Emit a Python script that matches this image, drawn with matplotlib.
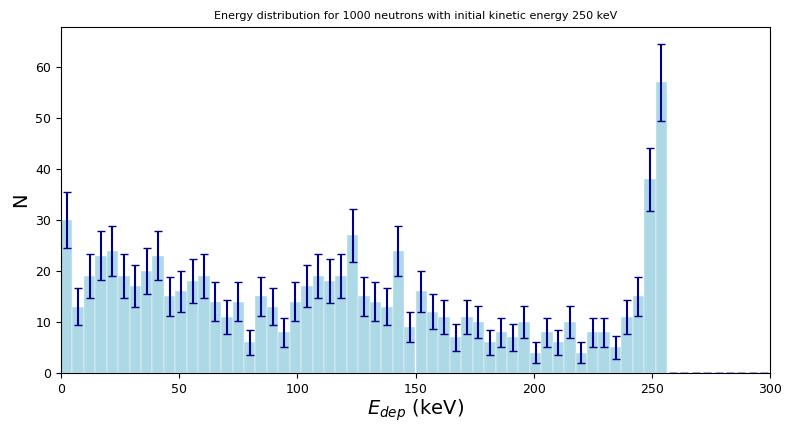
import numpy as np
import matplotlib
matplotlib.use("Agg")
import matplotlib.pyplot as plt

# Histogram: 62 equal bins from 0 to 300 keV
n_bins = 62
e_min, e_max = 0, 300
counts_nonzero = [30, 13, 19, 23, 24, 19, 17, 20, 23, 15,
                  16, 18, 19, 14, 11, 14, 6, 15, 13, 8,
                  14, 17, 19, 18, 19, 27, 15, 14, 13, 24,
                  9, 16, 12, 11, 7, 11, 10, 6, 8, 7,
                  10, 4, 8, 6, 10, 4, 8, 8, 5, 11,
                  15, 38, 57]
counts = np.array(counts_nonzero + [0] * (n_bins - len(counts_nonzero)), dtype=float)
edges = np.linspace(e_min, e_max, n_bins + 1)
centers = 0.5 * (edges[:-1] + edges[1:])
errors = np.sqrt(counts)

fig = plt.figure(figsize=(7.85, 4.25), dpi=100)
ax = fig.add_axes([61/785, 1-373/425, (770-61)/785, (373-27)/425])

ax.hist(centers, bins=edges, weights=counts, color='lightblue', edgecolor='white', linewidth=0.3)
ax.errorbar(centers, counts, yerr=errors, fmt='none', ecolor='darkblue', capsize=3, elinewidth=1.5)

ax.set_xlim(0, 300)
ax.set_ylim(0, 67.8)
ax.set_title('Energy distribution for 1000 neutrons with initial kinetic energy 250 keV', fontsize=8)
ax.set_xlabel('$E_{dep}$ (keV)', fontsize=14, labelpad=1)
ax.set_ylabel('N', fontsize=14)
ax.tick_params(labelsize=9)

fig.savefig('out.png', dpi=100)
